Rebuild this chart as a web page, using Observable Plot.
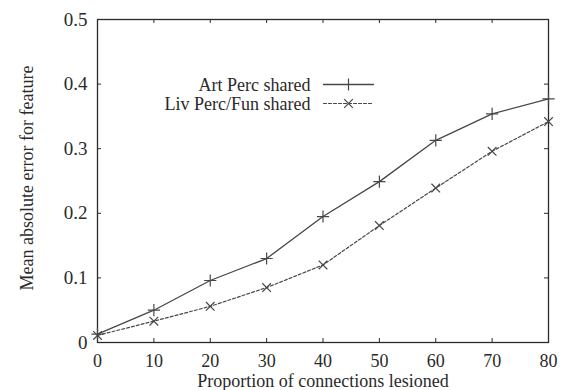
<!DOCTYPE html>
<html>
<head>
<meta charset="utf-8">
<script src="https://cdn.jsdelivr.net/npm/d3@7"></script>
<script src="https://cdn.jsdelivr.net/npm/@observablehq/plot@0.6"></script>
<style>
  html, body { margin: 0; padding: 0; background: #fff; }
  #chart svg { display: block; }
</style>
</head>
<body>
<div id="chart"></div>
<script>
// Data
const lesioned = [0, 10, 20, 30, 40, 50, 60, 70, 80];
const artPercShared = [0.013, 0.050, 0.096, 0.130, 0.195, 0.249, 0.313, 0.354, 0.377];
const livPercFunShared = [0.011, 0.033, 0.056, 0.085, 0.120, 0.181, 0.239, 0.296, 0.342];
const seriesNames = ["Art Perc shared", "Liv Perc/Fun shared"];
const xTicks = [0, 10, 20, 30, 40, 50, 60, 70, 80];
const yTicks = [0, 0.1, 0.2, 0.3, 0.4, 0.5];
const xLabel = "Proportion of connections lesioned";
const yLabel = "Mean absolute error for feature";

const rows = [];
lesioned.forEach((x, i) => {
  rows.push({series: seriesNames[0], x, y: artPercShared[i]});
  rows.push({series: seriesNames[1], x, y: livPercFunShared[i]});
});
const art = rows.filter(d => d.series === seriesNames[0]);
const liv = rows.filter(d => d.series === seriesNames[1]);

const W = 567, H = 390, mL = 97, mR = 19, mT = 19, mB = 48;
const frameW = W - mL - mR, frameH = H - mT - mB, tick = 4;

const ink = "#2a2a2a";
const lineInk = "#474747";
const font = "Liberation Serif, Times New Roman, serif";

const lineShape = {draw(context, l) { context.moveTo(0, 0); context.lineTo(0, -l); }};

const chart = Plot.plot({
  width: W,
  height: H,
  marginLeft: mL,
  marginRight: mR,
  marginTop: mT,
  marginBottom: mB,
  style: {fontFamily: font, fontSize: "18px", color: ink, background: "#fff"},
  x: {domain: [0, 80]},
  y: {domain: [0, 0.5]},
  marks: [
    Plot.frame({stroke: ink, strokeWidth: 1.3}),
    // inward ticks on all four sides
    Plot.tickX(xTicks, {x: d => d, insetTop: frameH - tick, stroke: ink}),
    Plot.tickX(xTicks, {x: d => d, insetBottom: frameH - tick, stroke: ink}),
    Plot.tickY(yTicks, {y: d => d, insetRight: frameW - tick, stroke: ink}),
    Plot.tickY(yTicks, {y: d => d, insetLeft: frameW - tick, stroke: ink}),
    Plot.axisX(xTicks, {anchor: "bottom", tickSize: 0, tickPadding: 12, label: null, fill: ink}),
    Plot.axisY(yTicks, {anchor: "left", tickSize: 0, tickPadding: 10, label: null, fontSize: 19,
      tickFormat: d => d === 0 ? "0" : d.toFixed(1), fill: ink}),
    Plot.text([xLabel], {text: d => d, frameAnchor: "bottom", dy: 39, lineAnchor: "middle", fill: ink}),
    Plot.text([yLabel], {text: d => d, frameAnchor: "left", dx: -70, dy: -3, rotate: -90, textAnchor: "middle", lineAnchor: "middle", fill: ink}),
    Plot.line(art, {x: "x", y: "y", stroke: lineInk, strokeWidth: 1.3}),
    Plot.line(liv, {x: "x", y: "y", stroke: lineInk, strokeWidth: 1.2, strokeDasharray: "3,2"}),
    Plot.dot(art, {x: "x", y: "y", symbol: "plus", r: 4, stroke: lineInk, strokeWidth: 1.2}),
    Plot.dot(liv, {x: "x", y: "y", symbol: "times", r: 4, stroke: lineInk, strokeWidth: 1.2}),
    // legend
    Plot.text([seriesNames[0]], {text: d => d, frameAnchor: "top-left", dx: 213, dy: 66, textAnchor: "end", lineAnchor: "middle", fill: ink}),
    Plot.text([seriesNames[1]], {text: d => d, frameAnchor: "top-left", dx: 213, dy: 85, textAnchor: "end", lineAnchor: "middle", fill: ink}),
    Plot.vector([seriesNames[0]], {frameAnchor: "top-left", dx: 226, dy: 65, length: 50, rotate: 90, anchor: "start", shape: lineShape, stroke: lineInk, strokeWidth: 1.3}),
    Plot.vector([seriesNames[1]], {frameAnchor: "top-left", dx: 226, dy: 84, length: 50, rotate: 90, anchor: "start", shape: lineShape, stroke: lineInk, strokeWidth: 1.2, strokeDasharray: "3,2"}),
    Plot.dot([seriesNames[0]], {frameAnchor: "top-left", dx: 251, dy: 65, symbol: "plus", r: 4, stroke: lineInk, strokeWidth: 1.2}),
    Plot.dot([seriesNames[1]], {frameAnchor: "top-left", dx: 251, dy: 84, symbol: "times", r: 4, stroke: lineInk, strokeWidth: 1.2})
  ]
});
document.getElementById("chart").appendChild(chart);
</script>
</body>
</html>
